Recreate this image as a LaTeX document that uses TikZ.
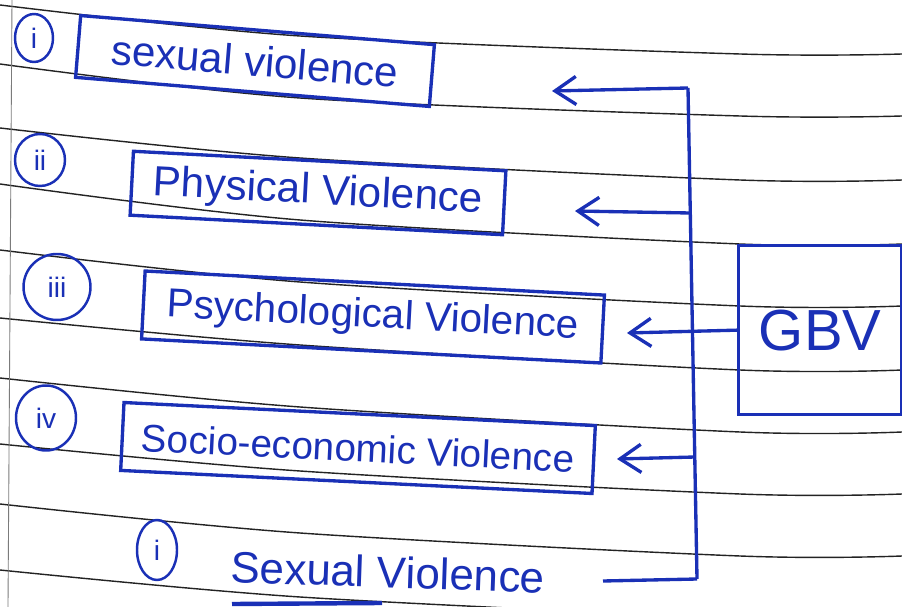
\documentclass[tikz,border=0pt]{standalone}
\usepackage{fontspec}
\setmainfont{Liberation Sans}
\usetikzlibrary{positioning}
\usetikzlibrary{arrows.meta}
\usetikzlibrary{shapes.geometric}
\definecolor{ink}{RGB}{26,48,182}
\definecolor{rulecol}{RGB}{35,35,35}

\begin{document}
\begin{tikzpicture}[x=0.02cm, y=-0.02cm,
    pen/.style={draw=ink, line width=1.9pt},
    kind/.style={pen, text=ink, inner sep=0pt, font=\fontsize{24}{28}\selectfont},
    num/.style={ellipse, draw=ink, line width=1.4pt, text=ink, inner sep=0pt, font=\fontsize{16}{18}\selectfont},
    feed/.style={pen, -{Straight Barb[length=12pt, width=16pt]}}]
  \fill[white] (0,0) rectangle (902,607);
  \useasboundingbox (0,0) rectangle (902,607);
  % ruled paper
  \foreach \yl/\yp/\yr in {5/36/54, 64/98/116, 128/158/180, 184/220/244, 250/282/306,
      318/345/370, 378/407/432, 444/471/494, 504/533/556, 570/597/618}
    \draw[rulecol, line width=0.8pt] plot[smooth] coordinates {(0,\yl) (300,\yp) (740,\yr) (902,\yr)};
  \draw[rulecol!60, line width=0.5pt] (12,0) -- (8,607);

  % kinds of violence
  \node[kind, rotate=-4.7, minimum width=7.1cm, minimum height=1.24cm] (sexual) at (255,61) {sexual violence};
  \node[kind, rotate=-3, minimum width=7.46cm, minimum height=1.28cm] (physical) at (318,193) {Physical Violence};
  \node[kind, rotate=-3, minimum width=9.2cm, minimum height=1.36cm,
    font=\fontsize{23}{27}\selectfont] (psych) at (373,317) {Psychological Violence};
  \node[kind, rotate=-2.8, minimum width=9.44cm, minimum height=1.36cm,
    font=\fontsize{22}{26}\selectfont] (socio) at (358,448) {Socio-economic Violence};
  \node[text=ink, rotate=-2, font=\fontsize{25}{29}\selectfont] (sexual2) at (388,572) {Sexual Violence};

  % numbering
  \node[num, minimum width=0.76cm, minimum height=0.96cm] (n1) at (34,38) {i};
  \node[num, minimum width=1cm, minimum height=1.04cm] (n2) at (40,160) {ii};
  \node[num, minimum width=1.34cm, minimum height=1.32cm] (n3) at (57,287) {iii};
  \node[num, minimum width=1.2cm, minimum height=1.3cm] (n4) at (46,418) {iv};
  \node[num, minimum width=0.8cm, minimum height=1.2cm] (n5) at (157,550) {i};

  \node[pen, text=ink, anchor=north west, minimum width=3.26cm, minimum height=3.38cm,
    font=\fontsize{33}{38}\selectfont] (gbv) at (737,244) {GBV};

  % bus and arrows
  \coordinate (top) at (688,88);
  \coordinate (bot) at (697,579);
  \coordinate (j2) at (690,213);
  \coordinate (j4) at (695,457);
  \coordinate (t1) at (552,91);
  \coordinate (t2) at (575,211);
  \coordinate (t3) at (627,333);
  \coordinate (t4) at (617,459);
  \coordinate (t5) at (603,581);
  \draw[pen] (top) -- (bot);
  \draw[feed] (top) -- (t1);
  \draw[feed] (j2) -- (t2);
  \draw[feed] (gbv.west) -- (t3);
  \draw[feed] (j4) -- (t4);
  \draw[pen] (bot) -- (t5);
  \draw[ink, line width=2.5pt] (232,604) -- (382,603);
\end{tikzpicture}
\end{document}
